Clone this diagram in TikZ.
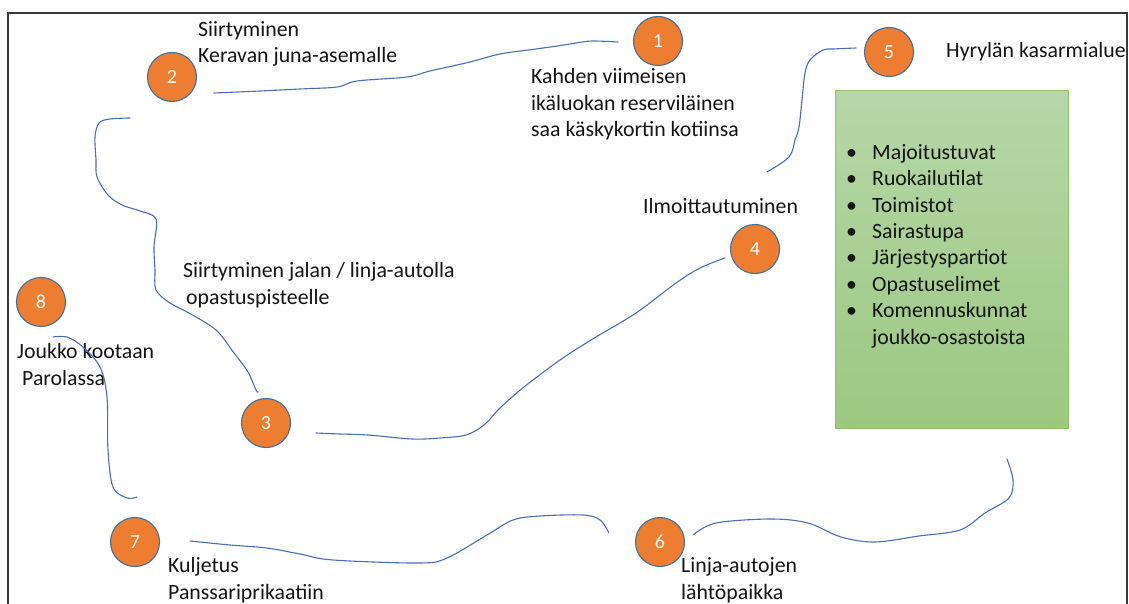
\documentclass[tikz,border=0pt]{standalone}
\usepackage{fontspec}
\setmainfont{Carlito}
\definecolor{stepfill}{HTML}{ED7D31}
\definecolor{stepline}{HTML}{41719C}
\definecolor{pathblue}{HTML}{4A6DB8}
\definecolor{txt}{HTML}{141414}
\definecolor{frameline}{HTML}{3A3A3A}
\definecolor{boxtop}{HTML}{B6D7A8}
\definecolor{boxbot}{HTML}{9CC881}
\definecolor{boxline}{HTML}{8CC06A}
\tikzset{
  stepc/.style={circle, fill=stepfill, draw=stepline, line width=1.1pt,
    minimum size=49pt, inner sep=0pt, text=white,
    font=\fontsize{20}{20}\selectfont},
  lbl/.style={anchor=base west, inner sep=0pt, align=left, text=txt,
    font=\fontsize{21.8}{26.8}\selectfont},
  route/.style={draw=pathblue, line width=1.1pt, line cap=round, line join=round},
  frame/.style={draw=frameline, line width=1.4pt}
}
\begin{document}
\begin{tikzpicture}[x=1pt,y=-1pt]
\useasboundingbox (0,0) rectangle (1129,604);
% frame
\coordinate (fbl) at (8,606);
\coordinate (ftl) at (8,13);
\coordinate (ftr) at (1127,13);
\coordinate (fbr) at (1127,606);
\draw[frame] (fbl) -- (ftl) -- (ftr) -- (fbr);

% green area box
\node[draw=boxline, line width=0.9pt, top color=boxtop, bottom color=boxbot,
  minimum width=233pt, minimum height=338pt, inner sep=0pt, anchor=north west]
  (area) at (835,90) {};
\node[anchor=base west, inner sep=0pt, align=left, text=txt,
  font=\fontsize{21.8}{26.4}\selectfont] (list) at (846,344)
  {\makebox[26pt][l]{•}Majoitustuvat\\
   \makebox[26pt][l]{•}Ruokailutilat\\
   \makebox[26pt][l]{•}Toimistot\\
   \makebox[26pt][l]{•}Sairastupa\\
   \makebox[26pt][l]{•}Järjestyspartiot\\
   \makebox[26pt][l]{•}Opastuselimet\\
   \makebox[26pt][l]{•}Komennuskunnat\\
   \hspace*{26pt}joukko-osastoista};

% step circles
\node[stepc] (s1) at (658,41) {1};
\node[stepc] (s2) at (172,77) {2};
\node[stepc] (s3) at (266,423) {3};
\node[stepc] (s4) at (755,249) {4};
\node[stepc] (s5) at (889,52) {5};
\node[stepc] (s6) at (660,542) {6};
\node[stepc] (s7) at (135,542) {7};
\node[stepc] (s8) at (41,302) {8};

% labels (anchored at the baseline of their last line)
\node[lbl] (t1) at (531,137) {Kahden viimeisen\\ikäluokan reserviläinen\\saa käskykortin kotiinsa};
\node[lbl] (t2) at (198,63) {Siirtyminen\\Keravan juna-asemalle};
\node[lbl] (t3) at (183,304) {Siirtyminen jalan / linja-autolla\\\hspace*{3pt}opastuspisteelle};
\node[lbl] (t4) at (643,214) {Ilmoittautuminen};
\node[lbl] (t5) at (946,58) {Hyrylän kasarmialue};
\node[lbl] (t6) at (681,599) {Linja-autojen\\lähtöpaikka};
\node[lbl] (t7) at (168,599) {Kuljetus\\Panssariprikaatiin};
\node[lbl] (t8) at (17,385) {Joukko kootaan\\\hspace*{5pt}Parolassa};

% routes (hand-drawn wiggly lines)
\draw[route] plot[smooth, tension=0.55] coordinates {(214,93) (260,91) (300,89) (337,87) (357,81) (407,77) (430,71) (470,62) (500,54) (536,49) (564,45) (576,43) (592,41) (618,42)};
\draw[route] plot[smooth, tension=0.55] coordinates {(130,118) (110,119) (99,123) (95,137) (96,160) (97,177) (108,195) (122,205) (140,211) (156,219) (154,247) (155,270) (156,290) (170,303) (189,313) (216,330) (234,353) (248,372) (256,390) (258,392)};
\draw[route] plot[smooth, tension=0.55] coordinates {(316,433) (340,434) (368,435) (412,439) (440,438) (466,435) (484,425) (500,408) (524,387) (560,360) (591,340) (636,313) (676,283) (700,268) (725,258)};
\draw[route] plot[smooth, tension=0.55] coordinates {(767,172) (789,157) (795,140) (799,127) (802,100) (805,73) (810,60) (823,50) (833,49) (856,48)};
\draw[route] plot[smooth, tension=0.55] coordinates {(1007,459) (1013,480) (1009,498) (985,513) (960,530) (919,536) (875,542) (841,537) (808,523) (771,519) (716,523) (693,535)};
\draw[route] plot[smooth, tension=0.55] coordinates {(609,533) (600,520) (583,515) (540,516) (513,520) (487,535) (447,558) (420,563) (333,560) (300,554) (267,548) (230,545) (190,541)};
\draw[route] plot[smooth, tension=0.55] coordinates {(137,497) (127,498) (113,487) (108,450) (107,397) (100,367) (83,347) (67,337) (53,337)};
\end{tikzpicture}
\end{document}
